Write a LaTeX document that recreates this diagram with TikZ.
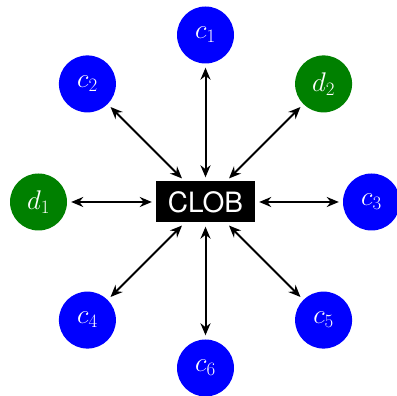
\RequirePackage{fix-cm}
\documentclass[tikz,border=0pt]{standalone}
\usepackage{fontspec}
\newfontfamily\clobfont{TeX Gyre Heros}
\usetikzlibrary{arrows.meta,calc}
\definecolor{cblue}{RGB}{0,0,255}
\definecolor{dgreen}{RGB}{0,128,0}
\tikzset{
  agent/.style={circle, minimum size=57pt, inner sep=0pt, text=white, font=\fontsize{27}{30}\selectfont},
  cagent/.style={agent, fill=cblue},
  dagent/.style={agent, fill=dgreen},
  book/.style={fill=black, text=white, minimum width=99pt, minimum height=41pt, inner sep=0pt, font=\clobfont\fontsize{28}{30}\selectfont},
  tips/.style={arrows={Stealth[length=12pt,width=10pt]-Stealth[length=12pt,width=10pt]}},
  link/.style={tips, line width=2pt, shorten >=4pt, shorten <=4pt}
}
\begin{document}
\begin{tikzpicture}[x=1pt,y=1pt]
\useasboundingbox (0,0) rectangle (397,396);
\node[book] (clob) at (205.5,194) {CLOB};
\node[cagent] (c1) at ($(clob)+(90:167)$) {$c_1$};
\node[cagent] (c2) at ($(clob)+(135:167)$) {$c_2$};
\node[dagent] (d2) at ($(clob)+(45:167)$) {$d_2$};
\node[dagent] (d1) at ($(clob)+(180:167)$) {$d_1$};
\node[cagent] (c3) at ($(clob)+(0:166)$) {$c_3$};
\node[cagent] (c4) at ($(clob)+(225:167)$) {$c_4$};
\node[cagent] (c5) at ($(clob)+(315:167)$) {$c_5$};
\node[cagent] (c6) at ($(clob)+(270:166)$) {$c_6$};
\foreach \n in {c1,c2,d2,d1,c3,c4,c5,c6}
  \draw[link] (\n) -- (clob);
\end{tikzpicture}
\end{document}
